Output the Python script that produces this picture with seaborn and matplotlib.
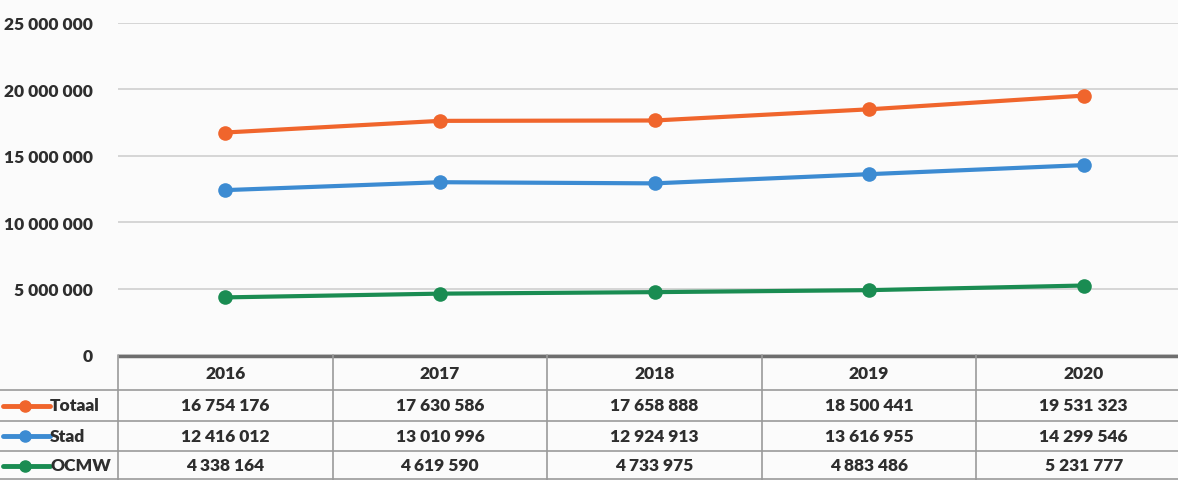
import matplotlib
matplotlib.use("Agg")
import matplotlib.pyplot as plt
import seaborn as sns
import pandas as pd

years = ["2016", "2017", "2018", "2019", "2020"]
series_names = ["Totaal", "Stad", "OCMW"]
totaal = [16754176, 17630586, 17658888, 18500441, 19531323]
stad = [12416012, 13010996, 12924913, 13616955, 14299546]
ocmw = [4338164, 4619590, 4733975, 4883486, 5231777]
y_ticks = [0, 5000000, 10000000, 15000000, 20000000, 25000000]

colors = {"Totaal": "#F0652C", "Stad": "#3C8BD2", "OCMW": "#1A8C52"}

values = {"Totaal": totaal, "Stad": stad, "OCMW": ocmw}
rows = []
for name in series_names:
    for yr, v in zip(years, values[name]):
        rows.append({"year": yr, "value": v, "serie": name})
df = pd.DataFrame(rows)

def fmt(v):
    return f"{v:,}".replace(",", " ")

sns.set_style("white")
plt.rcParams["font.family"] = ["Lato", "DejaVu Sans"]
plt.rcParams["font.weight"] = "bold"

TXT = "#2E2E2E"
FW = "heavy"
W, H = 1178, 481
fig = plt.figure(figsize=(W / 100, H / 100), dpi=100)
fig.patch.set_facecolor("#FBFBFB")

left_px, right_px, top_px, zero_px = 118, 1191, 24, 356
ax = fig.add_axes([left_px / W, (H - zero_px) / H, (right_px - left_px) / W, (zero_px - top_px) / H])
ax.set_facecolor("#FBFBFB")

sns.lineplot(data=df, x="year", y="value", hue="serie", palette=colors,
             marker="o", markersize=10.5, markeredgewidth=0, linewidth=3.0,
             ax=ax, legend=False, sort=False)

ax.set_xlim(-0.5, 4.5)
ax.set_ylim(0, 25000000)
ax.set_yticks(y_ticks)
ax.set_yticklabels([fmt(t) for t in y_ticks], fontsize=12.5, fontweight=FW, color=TXT)
ax.tick_params(axis="y", length=0, pad=18)
ax.set_xticks([])
ax.set_xlabel("")
ax.set_ylabel("")
for s in ax.spines.values():
    s.set_visible(False)
ax.grid(axis="y", color="#D3D3D3", linewidth=1.3)
ax.set_axisbelow(True)

# data table below
tab = fig.add_axes([left_px / W, 0, (right_px - left_px) / W, (H - zero_px) / H])
tab.set_xlim(-0.5, 4.5)
tab.set_ylim(H - zero_px, 0)
tab.axis("off")
col_w_px = (right_px - left_px) / 5
x_left_edge = -0.5 - left_px / col_w_px

row_lines = [0, 35, 66, 96, H - zero_px]
line_col = "#9A9A9A"
tab.plot([-0.5, 4.5], [1, 1], color="#6E6E6E", lw=2.5, clip_on=False, solid_capstyle="butt")
for yl in row_lines[1:-1]:
    tab.plot([x_left_edge, 4.5], [yl, yl], color=line_col, lw=1.2, clip_on=False)
tab.plot([x_left_edge, 4.5], [row_lines[-1] - 1, row_lines[-1] - 1], color=line_col, lw=1.2, clip_on=False)
for i in range(6):
    xv = -0.5 + i
    tab.plot([xv, xv], [0, row_lines[-1]], color=line_col, lw=1.2, clip_on=False)

for i, yr in enumerate(years):
    tab.text(i, (row_lines[0] + row_lines[1]) / 2 + 1, yr, ha="center", va="center",
             fontsize=12.5, fontweight=FW, color=TXT)

for r, name in enumerate(series_names):
    yc = (row_lines[r + 1] + row_lines[r + 2]) / 2
    for i, v in enumerate(values[name]):
        tab.text(i, yc, fmt(v), ha="center", va="center",
                 fontsize=12.5, fontweight=FW, color=TXT)
    # legend key
    x0 = x_left_edge + 3 / col_w_px
    x1 = x_left_edge + 50 / col_w_px
    xm = x_left_edge + 25 / col_w_px
    tab.plot([x0, x1], [yc, yc], color=colors[name], lw=3.5, clip_on=False, solid_capstyle="round")
    tab.plot([xm], [yc], marker="o", color=colors[name], markersize=8, clip_on=False)
    tab.text(x_left_edge + 50 / col_w_px, yc, name, ha="left", va="center",
             fontsize=12.5, fontweight=FW, color=TXT, clip_on=False)

fig.savefig("out.png", dpi=100, facecolor=fig.get_facecolor())
